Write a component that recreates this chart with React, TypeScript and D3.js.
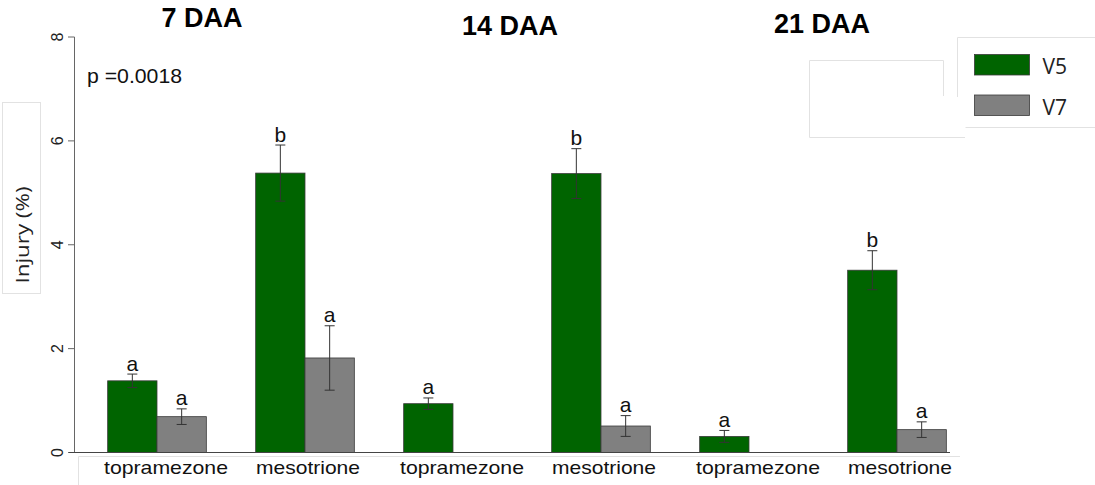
import * as d3 from "d3";

// treatments, one per cluster of bars
const herbicides = ["topramezone", "mesotrione", "topramezone", "mesotrione", "topramezone", "mesotrione"];
const timings = ["7 DAA", "14 DAA", "21 DAA"];
const stages = ["V5", "V7"];

// injury (%) means and standard errors
const v5Means = [1.38, 5.38, 0.94, 5.37, 0.31, 3.51];
const v5Se = [0.13, 0.54, 0.11, 0.48, 0.115, 0.375];
const v7Means = [0.69, 1.82, null, 0.51, null, 0.44];
const v7Se = [0.15, 0.62, null, 0.2, null, 0.15];

const v5Letters = ["a", "b", "a", "b", "a", "b"];
const v7Letters = ["a", "a", null, "a", null, "a"];

const yTicks = [0, 2, 4, 6, 8];

const W = 1095;
const H = 485;
const colors: Record<string, string> = { V5: "#006400", V7: "#808080" };
const arial = "'Liberation Sans', Arial, sans-serif";
const sans = "'Open Sans', 'Noto Sans', sans-serif";

export default function App() {
  const y = d3.scaleLinear().domain([0, 8]).range([452.5, 37]);
  const x = d3
    .scaleBand<number>()
    .domain(d3.range(herbicides.length))
    .range([83, 971])
    .paddingInner(1 / 3)
    .paddingOuter(1 / 6);
  const inner = d3.scaleBand<string>().domain(stages).range([0, x.bandwidth()]);

  const series = [
    { key: "V5", means: v5Means, se: v5Se, letters: v5Letters },
    { key: "V7", means: v7Means, se: v7Se, letters: v7Letters },
  ];

  const faint = "#e2e2e2";
  const titlePos = [202, 510, 822];
  const titleBase = [27, 35, 33];

  return (
    <svg width={W} height={H} style={{ position: "absolute", left: 0, top: 0, background: "#fff" }}>
      {/* faint leftover text-box outlines */}
      <rect x={2.5} y={102.5} width={38} height={191} fill="none" stroke={faint} />
      <line x1={78.5} y1={456.5} x2={78.5} y2={485} stroke={faint} />
      <line x1={78.5} y1={456.5} x2={960} y2={456.5} stroke={faint} />
      <polyline points="957.5,97 957.5,37.5 1095,37.5" fill="none" stroke={faint} />
      <line x1={965.5} y1={127.5} x2={1095} y2={127.5} stroke={faint} />
      <polyline points="943.5,96 943.5,60.5 809.5,60.5 809.5,137.5 965,137.5" fill="none" stroke={faint} />

      {/* titles */}
      {timings.map((t, i) => (
        <text
          key={t}
          x={titlePos[i]}
          y={titleBase[i]}
          textAnchor="middle"
          fontFamily={arial}
          fontWeight="bold"
          fontSize={27}
          fill="#000"
        >
          {t}
        </text>
      ))}

      <text x={87} y={83} fontFamily={arial} fontSize={20} textLength={95} lengthAdjust="spacingAndGlyphs" fill="#111">
        p =0.0018
      </text>

      {/* y axis */}
      <line x1={74.5} y1={y(8)} x2={74.5} y2={y(0)} stroke="#666" />
      {yTicks.map((t) => (
        <g key={t} transform={`translate(0,${y(t)})`}>
          <line x1={68} x2={74.5} stroke="#666" />
          <text
            transform="translate(62.5,0) rotate(-90)"
            textAnchor="middle"
            fontFamily={arial}
            fontSize={16}
            fill="#222"
          >
            {t}
          </text>
        </g>
      ))}
      <text
        transform={`translate(29,235) rotate(-90)`}
        textAnchor="middle"
        fontFamily={sans}
        fontSize={19}
        textLength={97}
        lengthAdjust="spacingAndGlyphs"
        fill="#222"
      >
        Injury (%)
      </text>

      {/* bars */}
      {series.map((s) =>
        s.means.map((m, i) => {
          if (m == null) return null;
          const bx = (x(i) ?? 0) + (inner(s.key) ?? 0);
          const bw = inner.bandwidth();
          return (
            <rect
              key={s.key + i}
              x={bx}
              y={y(m)}
              width={bw}
              height={y(0) - y(m)}
              fill={colors[s.key]}
              stroke="#3a3a3a"
              strokeWidth={0.8}
            />
          );
        })
      )}

      {/* error bars and letters */}
      {series.map((s) =>
        s.means.map((m, i) => {
          if (m == null) return null;
          const e = s.se[i] as number;
          const cx = (x(i) ?? 0) + (inner(s.key) ?? 0) + inner.bandwidth() / 2;
          const top = y(m + e);
          const bot = y(m - e);
          return (
            <g key={"e" + s.key + i} stroke="#333" strokeWidth={1}>
              <line x1={cx} x2={cx} y1={top} y2={bot} />
              <line x1={cx - 5} x2={cx + 5} y1={top} y2={top} />
              <line x1={cx - 5} x2={cx + 5} y1={bot} y2={bot} />
              <text
                x={cx}
                y={top - 3.5}
                textAnchor="middle"
                fontFamily={arial}
                fontSize={21}
                fill="#111"
                stroke="none"
              >
                {s.letters[i]}
              </text>
            </g>
          );
        })
      )}

      {/* x axis */}
      <line x1={69} x2={950} y1={452.5} y2={452.5} stroke="#444" />
      {herbicides.map((h, i) => (
        <text
          key={"l" + i}
          x={(x(i) ?? 0) + x.bandwidth() / 2 + (h === "topramezone" ? 9 : 3)}
          y={474}
          textAnchor="middle"
          fontFamily={arial}
          fontSize={19}
          textLength={h === "topramezone" ? 124 : 104}
          lengthAdjust="spacingAndGlyphs"
          fill="#111"
        >
          {h}
        </text>
      ))}

      {/* legend */}
      {stages.map((st, i) => (
        <g key={st} transform={`translate(974,${54 + i * 40.5})`}>
          <rect x={0.5} y={0.5} width={55} height={20.5} fill={colors[st]} stroke="#3a3a3a" strokeWidth={0.8} />
          <text x={68.5} y={20} fontFamily={sans} fontSize={21} fill="#222">
            {st}
          </text>
        </g>
      ))}
    </svg>
  );
}
